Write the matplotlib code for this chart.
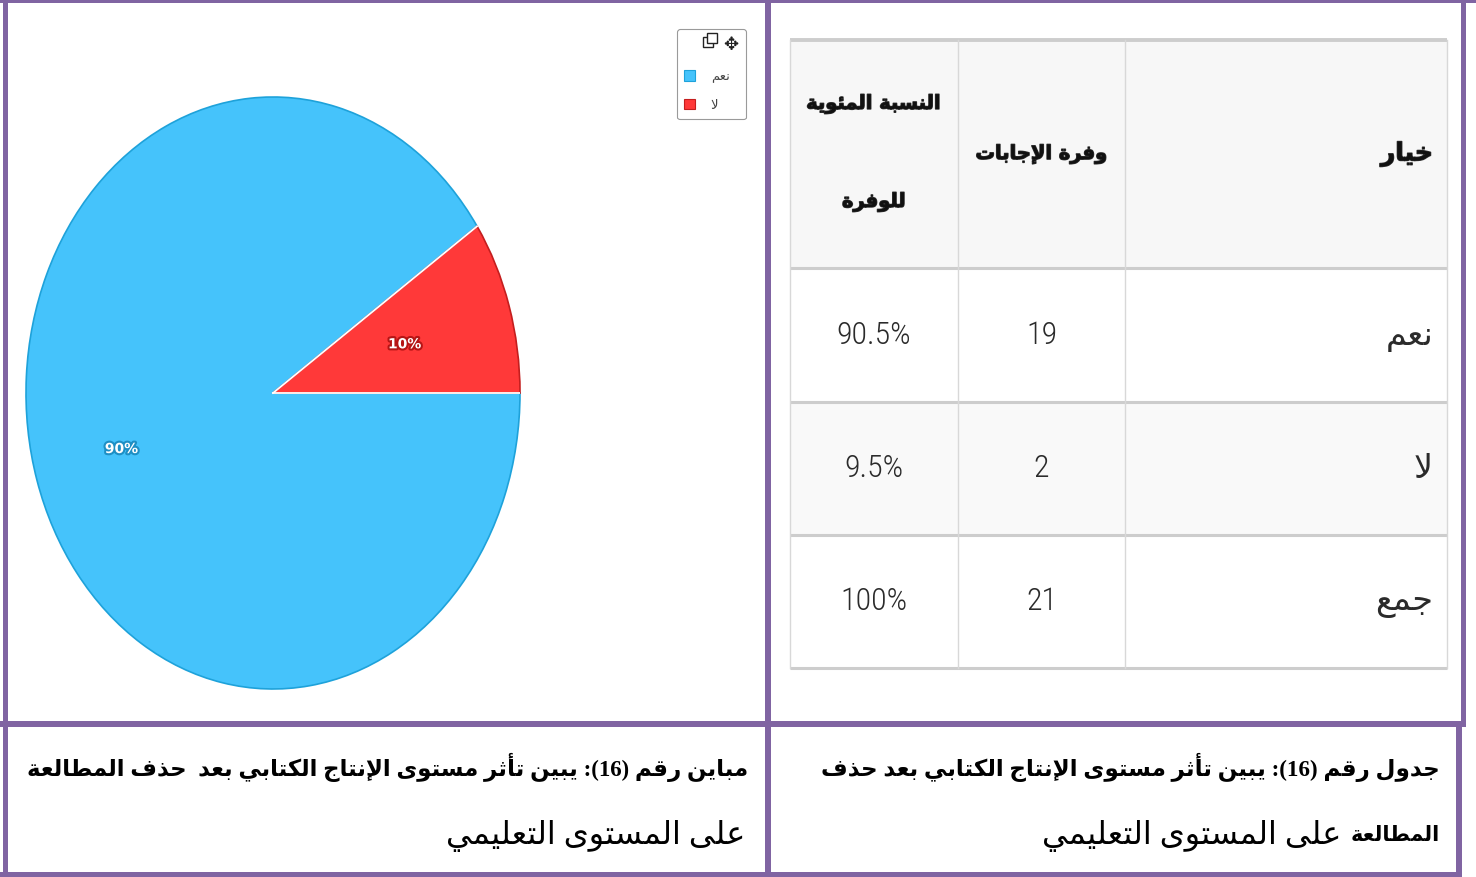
import re
import numpy as np
import matplotlib
matplotlib.use("Agg")
import matplotlib.pyplot as plt
import matplotlib.patheffects as pe
from matplotlib import font_manager as fm
from matplotlib.patches import Rectangle, Patch

# ---------------------------------------------------------------- data
options = ["نعم", "لا"]
counts = [19, 2]
shares = ["90.5%", "9.5%"]
total_label = "جمع"
total_count = 21
total_share = "100%"
headers = ["خيار", "وفرة الإجابات", "النسبة المئوية\nللوفرة"]

caption_chart = ["مباين رقم (16): يبين تأثر مستوى الإنتاج الكتابي بعد  حذف المطالعة",
                 "على المستوى التعليمي"]
caption_table = ["جدول رقم (16): يبين تأثر مستوى الإنتاج الكتابي بعد حذف",
                 "المطالعة", "على المستوى التعليمي"]

slice_colors = ["#45C3FB", "#FF3939"]
slice_edges = ["#1EA2DA", "#C41E1E"]
label_glow = ["#1E8FC4", "#B51515"]
frame_color = "#8064A2"

# ------------------------------------------------- arabic shaping helpers
_FORM_TABLE = [("ء", 0xFE80, 1), ("آ", 0xFE81, 2), ("أ", 0xFE83, 2), ("ؤ", 0xFE85, 2),
               ("إ", 0xFE87, 2), ("ئ", 0xFE89, 4), ("ا", 0xFE8D, 2), ("ب", 0xFE8F, 4),
               ("ة", 0xFE93, 2), ("ت", 0xFE95, 4), ("ث", 0xFE99, 4), ("ج", 0xFE9D, 4),
               ("ح", 0xFEA1, 4), ("خ", 0xFEA5, 4), ("د", 0xFEA9, 2), ("ذ", 0xFEAB, 2),
               ("ر", 0xFEAD, 2), ("ز", 0xFEAF, 2), ("س", 0xFEB1, 4), ("ش", 0xFEB5, 4),
               ("ص", 0xFEB9, 4), ("ض", 0xFEBD, 4), ("ط", 0xFEC1, 4), ("ظ", 0xFEC5, 4),
               ("ع", 0xFEC9, 4), ("غ", 0xFECD, 4), ("ف", 0xFED1, 4), ("ق", 0xFED5, 4),
               ("ك", 0xFED9, 4), ("ل", 0xFEDD, 4), ("م", 0xFEE1, 4), ("ن", 0xFEE5, 4),
               ("ه", 0xFEE9, 4), ("و", 0xFEED, 2), ("ى", 0xFEEF, 2), ("ي", 0xFEF1, 4)]
FORMS = {c: tuple(chr(b + k) if k < n else None for k in range(4)) for c, b, n in _FORM_TABLE}
LAM_ALEF = {"آ": 0xFEF5, "أ": 0xFEF7, "إ": 0xFEF9, "ا": 0xFEFB}


def shape_line(text):
    units, i = [], 0
    while i < len(text):
        c = text[i]
        if c == "ل" and i + 1 < len(text) and text[i + 1] in LAM_ALEF:
            b = LAM_ALEF[text[i + 1]]
            units.append((chr(b), chr(b + 1), None, None))
            i += 2
        else:
            units.append(FORMS.get(c, c))
            i += 1
    out = []
    for j, u in enumerate(units):
        if isinstance(u, str):
            out.append(u)
            continue
        prev = units[j - 1] if j > 0 else None
        nxt = units[j + 1] if j + 1 < len(units) else None
        jp = u[1] is not None and isinstance(prev, tuple) and prev[2] is not None
        jn = u[2] is not None and isinstance(nxt, tuple) and nxt[1] is not None
        out.append(u[3] if (jp and jn) else u[1] if jp else u[2] if jn else u[0])
    vis = "".join(out)[::-1].translate(str.maketrans("()", ")("))
    return re.sub(r"[0-9]+", lambda m: m.group(0)[::-1], vis)


def ar(text):
    return "\n".join(shape_line(t) for t in text.split("\n"))


def narrow_family(default="DejaVu Sans"):
    for name in ["Roboto Condensed", "Liberation Sans Narrow", "Open Sans Condensed"]:
        try:
            fm.findfont(fm.FontProperties(family=name), fallback_to_default=False)
            return name
        except ValueError:
            pass
    return default


NARROW = narrow_family()
AR_FONT = "DejaVu Sans"

# ---------------------------------------------------------------- figure
W, H = 1476, 877
fig = plt.figure(figsize=(W / 100, H / 100), dpi=100)
base = fig.add_axes([0, 0, 1, 1])
base.set_xlim(0, W)
base.set_ylim(H, 0)
base.axis("off")

# outer purple frame and cell dividers
for x0, y0, w, h in [(0, 0, W, 2.5), (3, 0, 5, H), (765, 0, 6, H), (0, 721, 1466, 6),
                     (1461, 0, 5, 727), (1456, 721, 6, H - 721), (0, 872, 1462, 5)]:
    base.add_patch(Rectangle((x0, y0), w, h, facecolor=frame_color, edgecolor="none", zorder=5))

# ------------------------------------------------------------------ table
col_edges = [790, 958, 1125, 1447]
row_edges = [40, 268, 402, 535, 668]
base.add_patch(Rectangle((col_edges[0], row_edges[0]), col_edges[-1] - col_edges[0],
                         row_edges[1] - row_edges[0], facecolor="#F7F7F7", edgecolor="none"))
base.add_patch(Rectangle((col_edges[0], row_edges[2]), col_edges[-1] - col_edges[0],
                         row_edges[3] - row_edges[2], facecolor="#F9F9F9", edgecolor="none"))
for k, y in enumerate(row_edges):
    base.plot([col_edges[0], col_edges[-1]], [y, y], color="#CDCDCD",
              lw=2.8 if k == 0 else 2.2, solid_capstyle="butt", zorder=2)
for x in col_edges:
    base.plot([x, x], [row_edges[0], row_edges[-1]], color="#D8D8D8", lw=1.0, zorder=2)

hdr_y = (row_edges[0] + row_edges[1]) / 2
hdr_h = row_edges[1] - row_edges[0]
hdr_fx = [pe.withStroke(linewidth=1.0, foreground="#333333")]
hdr_kw = dict(fontweight="bold", family=AR_FONT, color="#111111", path_effects=hdr_fx,
              va="center")
base.text(col_edges[3] - 14, hdr_y, ar(headers[0]), ha="right", fontsize=18, **hdr_kw)
base.text((col_edges[1] + col_edges[2]) / 2, hdr_y, ar(headers[1]), ha="center",
          fontsize=14, **hdr_kw)
pct_lines = headers[2].split("\n")
for k, line in enumerate(pct_lines):
    base.text((col_edges[0] + col_edges[1]) / 2, row_edges[0] + hdr_h * (0.28 + 0.43 * k),
              ar(line), ha="center", fontsize=14, **hdr_kw)

rows = list(zip(options, counts, shares)) + [(total_label, total_count, total_share)]
for r, (name, cnt, share) in enumerate(rows):
    yc = (row_edges[r + 1] + row_edges[r + 2]) / 2
    base.text(col_edges[3] - 14, yc, ar(name), ha="right", va="center", fontsize=24,
              family=AR_FONT, color="#2B2B2B")
    base.text((col_edges[1] + col_edges[2]) / 2, yc, str(cnt), ha="center", va="center",
              fontsize=23, family=NARROW, fontweight="light", color="#2B2B2B")
    base.text((col_edges[0] + col_edges[1]) / 2, yc, share, ha="center", va="center",
              fontsize=23, family=NARROW, fontweight="light", color="#2B2B2B")

# --------------------------------------------------------------- captions
cap_family = ["Liberation Serif", "DejaVu Sans"]
base.text(748, 767, ar(caption_chart[0]), ha="right", va="center", fontsize=16.5,
          fontweight="bold", family=cap_family, color="black")
base.text(745, 836, ar(caption_chart[1]), ha="right", va="center", fontsize=23,
          family=cap_family, color="black")
base.text(1440, 767, ar(caption_table[0]), ha="right", va="center", fontsize=16.6,
          fontweight="bold", family=cap_family, color="black")
first = base.text(1440, 836, ar(caption_table[1]), ha="right", va="center", fontsize=15,
                  fontweight="bold", family=cap_family, color="black")
base.annotate(ar(caption_table[2]), xy=(0, 0.5), xycoords=first, xytext=(-7, 0),
              textcoords="offset points", ha="right", va="center", fontsize=23,
              family=cap_family, color="black")

# -------------------------------------------------------------------- pie
cx, cy, rx, ry = 273, 393, 247, 296
pie_ax = fig.add_axes([(cx - rx) / W, 1 - (cy + ry) / H, 2 * rx / W, 2 * ry / H])
wedges, _, pct_texts = pie_ax.pie(
    counts, colors=slice_colors, startangle=0, counterclock=False,
    autopct="%.0f%%", pctdistance=0.6, radius=1,
    wedgeprops=dict(linewidth=1.2),
    textprops=dict(color="white", fontsize=10, fontweight="bold", family="DejaVu Sans"))
pie_ax.set_aspect("auto")
pie_ax.set_xlim(-1, 1)
pie_ax.set_ylim(-1, 1)
for w, ec in zip(wedges, slice_edges):
    w.set_edgecolor(ec)
for t, glow, scale in zip(pct_texts, label_glow, [1.07, 0.93]):
    x, y = t.get_position()
    t.set_position((x * scale, y * scale))
    t.set_path_effects([pe.withStroke(linewidth=3, foreground=glow)])
# white separators along the slice boundaries
for w in wedges:
    ang = np.deg2rad(w.theta1)
    pie_ax.plot([0, np.cos(ang)], [0, np.sin(ang)], color="white", lw=1.3, zorder=3)

# ----------------------------------------------------------------- legend
handles = [Patch(facecolor=c, edgecolor=e, linewidth=0.8) for c, e in zip(slice_colors, slice_edges)]
leg = fig.legend(handles, [ar(o) for o in options], loc="upper left",
                 bbox_to_anchor=(677 / W, 1 - 119 / H, 69 / W, 90 / H),
                 bbox_transform=fig.transFigure, mode="expand", borderaxespad=0,
                 fontsize=9.5, handlelength=0.8, handleheight=0.8, handletextpad=1.2,
                 labelspacing=1.2, borderpad=0.55, title="✥", title_fontsize=13,
                 alignment="right", frameon=True, fancybox=True, edgecolor="#9A9A9A",
                 framealpha=1)
leg.get_frame().set_linewidth(0.8)
for t in leg.get_texts():
    t.set_color("#444444")
leg.get_title().set_color("#222222")
# "restore" window glyph beside the move handle
for dx, dy in [(0, 4), (4, 0)]:
    fig.add_artist(Rectangle((703 + dx, 33 + dy), 10, 10, transform=base.transData,
                             facecolor="white", edgecolor="#222222", linewidth=1.0,
                             zorder=7))

fig.savefig("out.png", dpi=100)
